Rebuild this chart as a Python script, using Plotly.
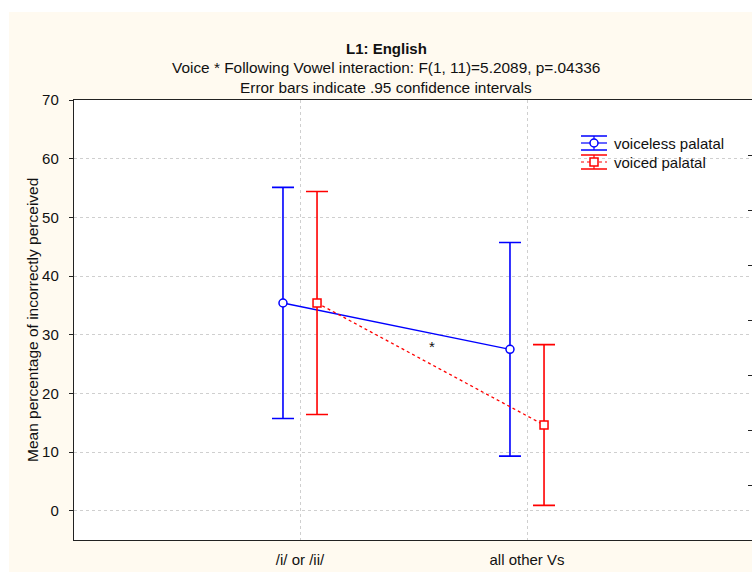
import plotly.graph_objects as go

categories = ["/i/ or /ii/", "all other Vs"]
series_names = ["voiceless palatal", "voiced palatal"]
voiceless_mean = [35.4, 27.5]
voiceless_ci = [19.7, 18.2]
voiced_mean = [35.4, 14.6]
voiced_ci = [19.0, 13.7]
y_ticks = [0, 10, 20, 30, 40, 50, 60, 70]

W, H = 752, 572
ML, MR, MT, MB = 74, 0, 100, 32
PW, PH = W - ML - MR, H - MT - MB


def px_x(px):
    return (px - ML) / PW


def px_y(py):
    return (H - MB - py) / PH


idx = list(range(len(categories)))
off = 0.075
FONT = "Liberation Sans, Arial, sans-serif"
BLUE = "#0000ff"
RED = "#ff0000"
CREAM = "#fffaf0"
GRID = "#cfcfcf"

fig = go.Figure()
fig.add_trace(go.Scatter(
    x=[i - off for i in idx], y=voiceless_mean, name=series_names[0],
    mode="lines+markers", showlegend=False,
    line=dict(color=BLUE, width=1.3),
    marker=dict(symbol="circle", size=8, color="white", line=dict(color=BLUE, width=1.5)),
    error_y=dict(type="data", array=voiceless_ci, color=BLUE, thickness=1.6, width=11),
))
fig.add_trace(go.Scatter(
    x=[i + off for i in idx], y=voiced_mean, name=series_names[1],
    mode="lines+markers", showlegend=False,
    line=dict(color=RED, width=1.3, dash="dot"),
    marker=dict(symbol="square", size=8, color="white", line=dict(color=RED, width=1.5)),
    error_y=dict(type="data", array=voiced_ci, color=RED, thickness=1.6, width=11),
))
# invisible trace carrying the right-side tick marks
fig.add_trace(go.Scatter(x=[None], y=[None], yaxis="y2", showlegend=False, hoverinfo="skip"))

a = -(300 - ML) / 227.0
b = a + PW / 227.0

# ---- hand-drawn legend (symbol with error-bar caps, like the original) ----
shapes = [
    dict(type="rect", xref="paper", yref="paper", layer="below",
         x0=px_x(0), x1=1.01, y0=px_y(12), y1=px_y(0),
         fillcolor="white", line=dict(width=0)),
    dict(type="rect", xref="paper", yref="paper", layer="below",
         x0=px_x(0), x1=px_x(9), y0=px_y(H), y1=px_y(0),
         fillcolor="white", line=dict(width=0)),
]
annotations = []
leg_x0, leg_x1, leg_text_x = 581, 607, 612
leg_rows = [(143, BLUE, "solid", "circle", series_names[0]),
            (162, RED, "dot", "square", series_names[1])]
for yc, col, dash, sym, name in leg_rows:
    xc = (leg_x0 + leg_x1) / 2
    for yy in (yc - 7, yc + 7):
        shapes.append(dict(type="line", xref="paper", yref="paper",
                           x0=px_x(leg_x0), x1=px_x(leg_x1), y0=px_y(yy), y1=px_y(yy),
                           line=dict(color=col, width=1.5)))
    shapes.append(dict(type="line", xref="paper", yref="paper",
                       x0=px_x(xc), x1=px_x(xc), y0=px_y(yc - 7), y1=px_y(yc + 7),
                       line=dict(color=col, width=1.2)))
    shapes.append(dict(type="line", xref="paper", yref="paper",
                       x0=px_x(leg_x0), x1=px_x(leg_x1), y0=px_y(yc), y1=px_y(yc),
                       line=dict(color=col, width=1.2, dash=dash)))
    shapes.append(dict(type="circle" if sym == "circle" else "rect",
                       xref="paper", yref="paper",
                       x0=px_x(xc - 4), x1=px_x(xc + 4), y0=px_y(yc + 4), y1=px_y(yc - 4),
                       fillcolor="white", line=dict(color=col, width=1.5)))
    annotations.append(dict(text=name, xref="paper", yref="paper",
                            x=px_x(leg_text_x), y=px_y(yc), xanchor="left",
                            yanchor="middle", showarrow=False, font=dict(size=15)))

annotations += [
    dict(text="<b>L1: English</b>", xref="paper", yref="paper",
         x=px_x(386), y=px_y(48), xanchor="center", yanchor="middle",
         showarrow=False, font=dict(size=15)),
    dict(text="Voice * Following Vowel interaction: F(1, 11)=5.2089, p=.04336",
         xref="paper", yref="paper", x=px_x(386), y=px_y(67),
         xanchor="center", yanchor="middle", showarrow=False, font=dict(size=15.4)),
    dict(text="Error bars indicate .95 confidence intervals",
         xref="paper", yref="paper", x=px_x(386), y=px_y(87),
         xanchor="center", yanchor="middle", showarrow=False, font=dict(size=15.4)),
    dict(text="Mean percentage of incorrectly perceived", textangle=-90,
         xref="paper", yref="paper", x=px_x(32), y=0.5,
         xanchor="center", yanchor="middle", showarrow=False, font=dict(size=15.5)),
    dict(text="*", xref="x", yref="y", x=0.582, y=28.0,
         xanchor="center", yanchor="middle", showarrow=False, font=dict(size=15)),
]

fig.update_layout(
    width=W, height=H,
    margin=dict(l=ML, r=MR, t=MT, b=MB, pad=0),
    paper_bgcolor=CREAM, plot_bgcolor="white",
    font=dict(family=FONT, size=15, color="#111111"),
    showlegend=False,
    xaxis=dict(range=[a, b], tickvals=idx, ticktext=categories,
               showgrid=True, gridcolor=GRID, griddash="dot", gridwidth=1,
               showline=True, linecolor="#222222", linewidth=1.4, mirror=True,
               ticks="", zeroline=False, ticklabelstandoff=6,
               tickfont=dict(size=15)),
    yaxis=dict(range=[-5, 70], tickvals=y_ticks,
               showgrid=True, gridcolor=GRID, griddash="dot", gridwidth=1,
               showline=True, linecolor="#222222", linewidth=1.4,
               ticks="outside", ticklen=4, tickcolor="#222222",
               zeroline=False, ticklabelstandoff=7, tickfont=dict(size=15)),
    yaxis2=dict(overlaying="y", side="right", range=[0, 8], dtick=1,
                showticklabels=False, showgrid=False, zeroline=False,
                showline=False, ticks="inside", ticklen=4, tickcolor="#222222"),
    shapes=shapes,
    annotations=annotations,
)

fig.write_html("out.html", config={"displayModeBar": False},
               post_script="document.body.style.margin='0px';")
